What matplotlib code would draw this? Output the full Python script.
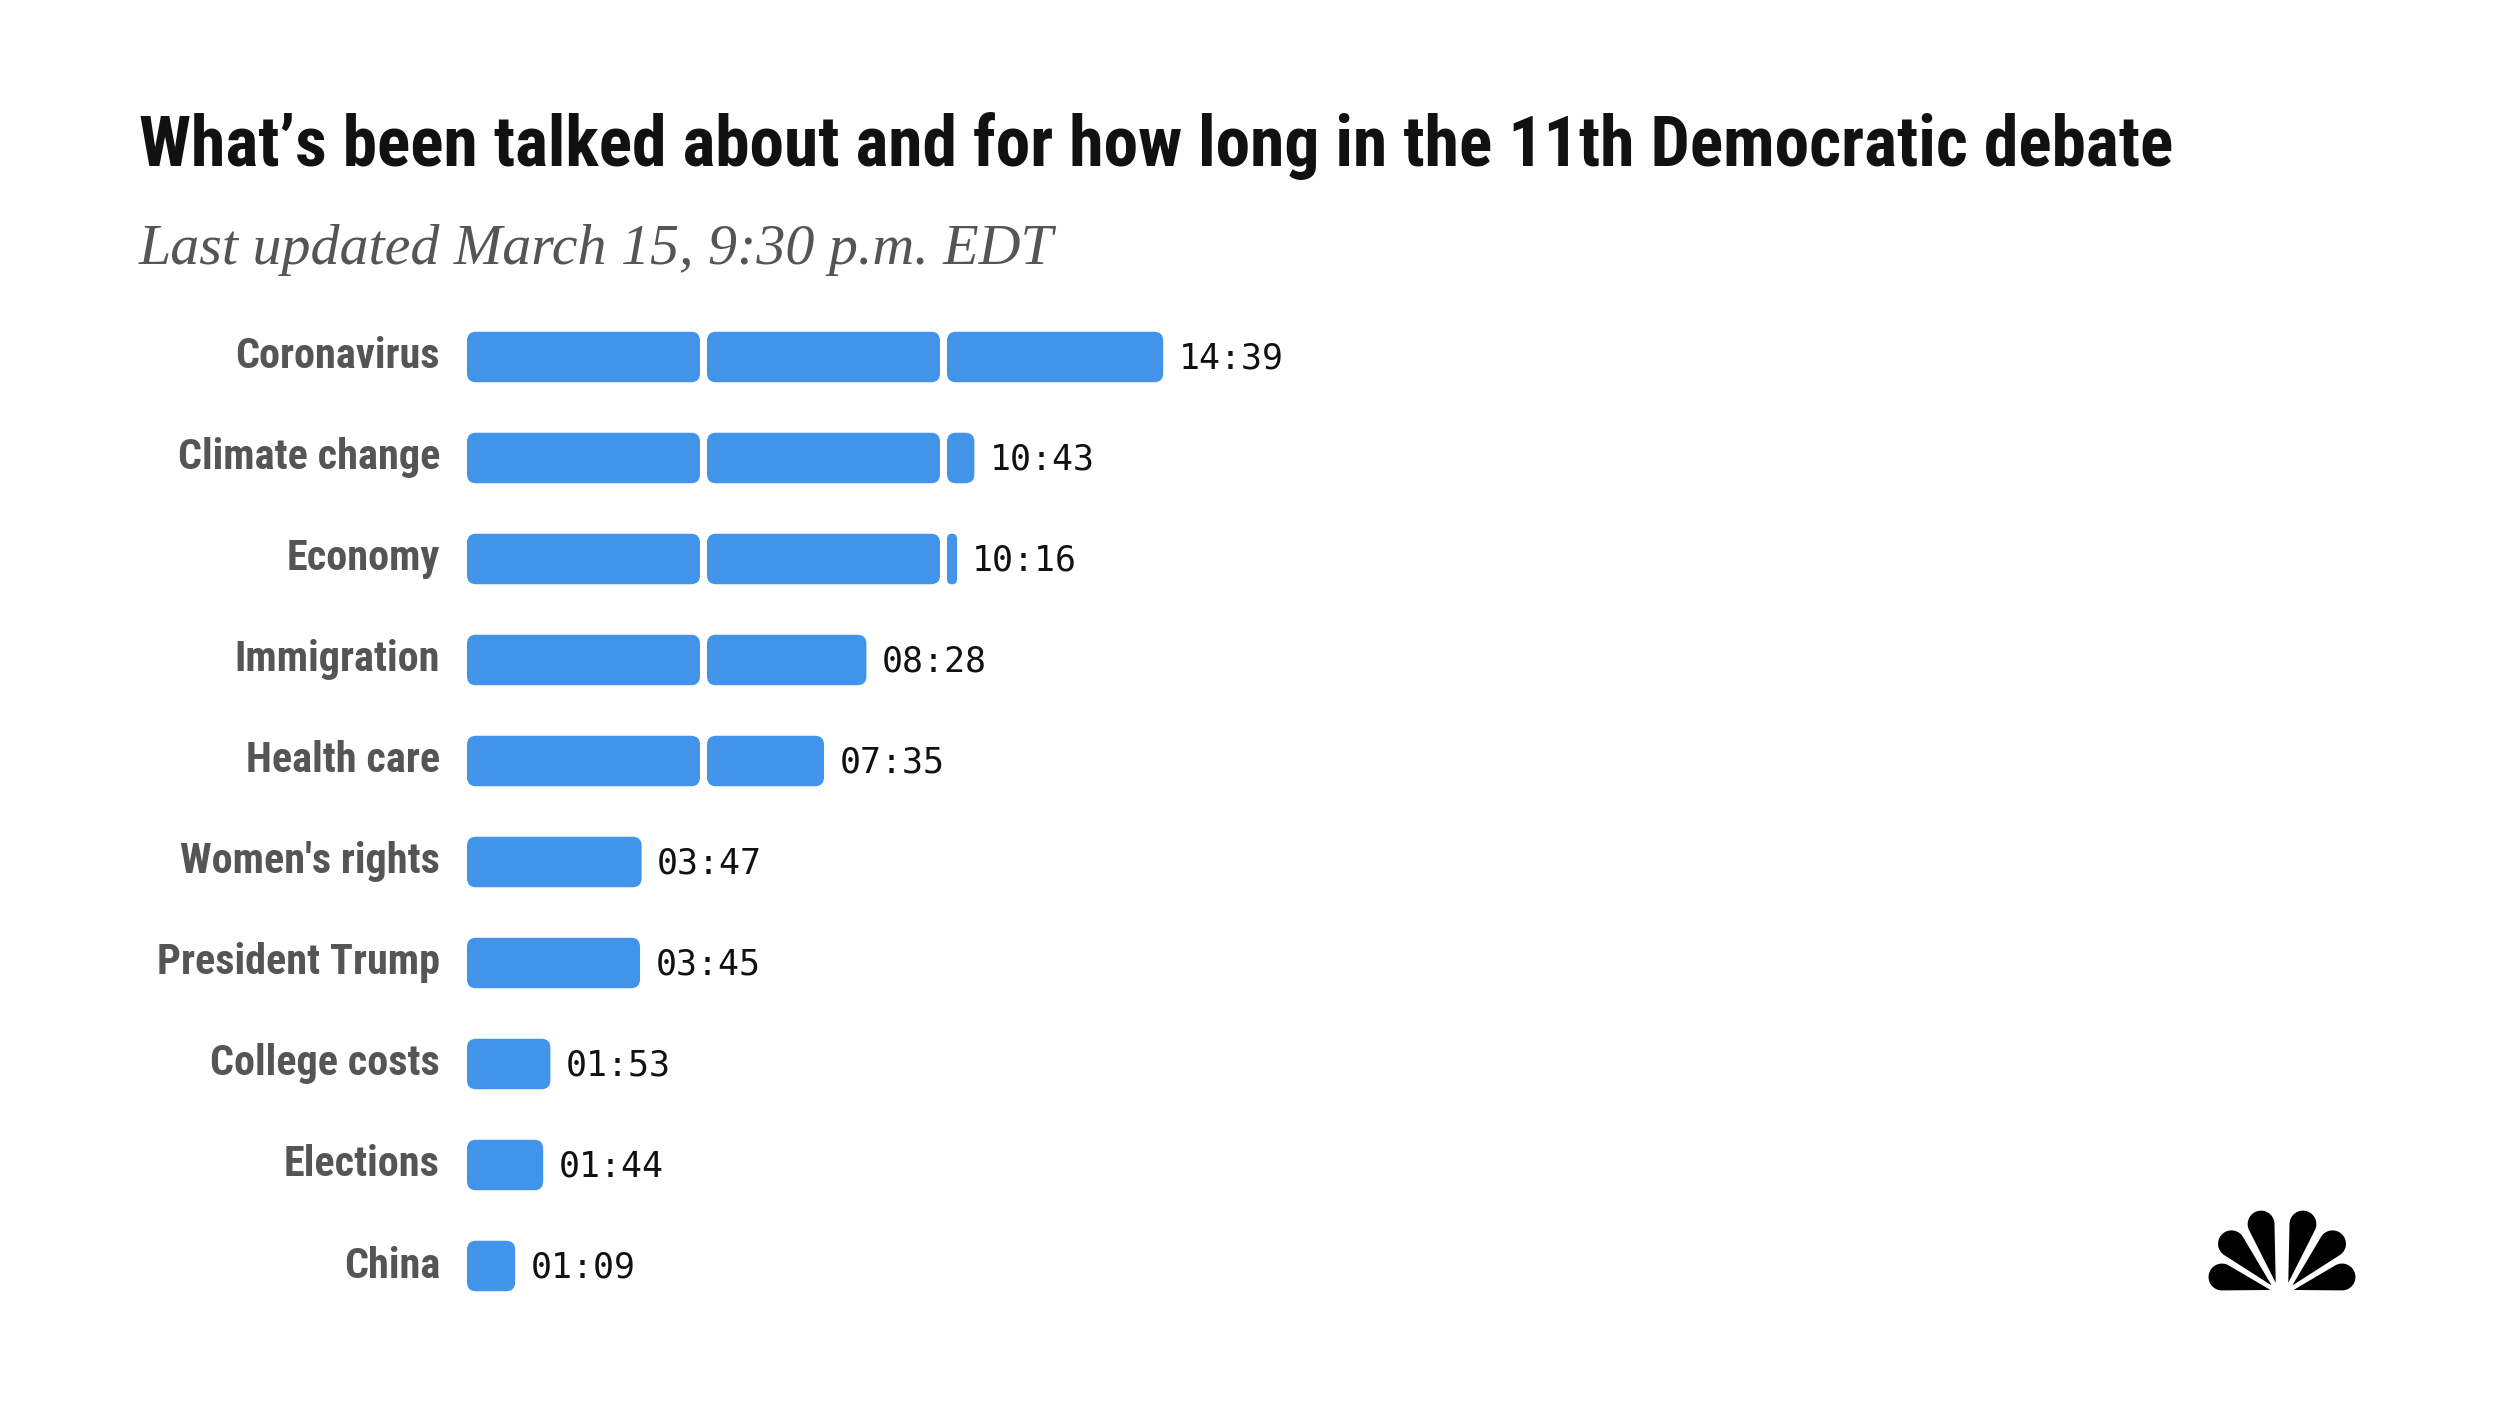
import os
import numpy as np
import matplotlib.pyplot as plt
from matplotlib import font_manager as fm
from matplotlib.patches import FancyBboxPatch, Polygon

# Data
topics = ["Coronavirus", "Climate change", "Economy", "Immigration", "Health care",
          "Women's rights", "President Trump", "College costs", "Elections", "China"]
durations = ["14:39", "10:43", "10:16", "08:28", "07:35",
             "03:47", "03:45", "01:53", "01:44", "01:09"]

minutes = [int(d.split(":")[0]) + int(d.split(":")[1]) / 60 for d in durations]


# Fonts: look for a bold condensed sans file, else plain bold
def find_file(patterns):
    files = {}
    for f in fm.fontManager.ttflist:
        key = os.path.basename(f.fname).lower()
        for ch in "-_ ":
            key = key.replace(ch, "")
        files[key] = f.fname
    for p in patterns:
        for ext in (".ttf", ".otf"):
            if p + ext in files:
                return files[p + ext]
    return None

cond_file = find_file(["notosanscondensedextrabold", "notosanscondensedbold",
                       "robotocondensedbold", "liberationsansnarrowbold",
                       "opensanscondensedbold", "dejavusanscondensedbold"])
if cond_file:
    cond_fp = fm.FontProperties(fname=cond_file)
else:
    cond_fp = fm.FontProperties(family="DejaVu Sans", weight="bold")

serif_fp = fm.FontProperties(family=["Liberation Serif", "DejaVu Serif"], style="italic")
mono_fp = fm.FontProperties(family=["DejaVu Sans Mono", "Liberation Mono"])

bar_color = "#4194EA"
label_color = "#555555"

W, H = 2500, 1406
fig = plt.figure(figsize=(W / 100, H / 100), dpi=100)
fig.patch.set_facecolor("white")

# scale: 48 px per minute, 101 px per row
px_per_min = 48
px_per_row = 101
xmax = 40
ax = fig.add_axes([467 / W, 1 - 1316.5 / H, xmax * px_per_min / W, 10 * px_per_row / H])
ax.set_xlim(0, xmax)
ax.set_ylim(len(topics) - 0.5, -0.5)
ax.axis("off")

seg = 5.0                      # each block is five minutes
gap = 7 / px_per_min           # white gap between blocks
min_w = 10 / px_per_min
rad = 9 / px_per_min
bar_h = 0.5
asp = px_per_min / px_per_row

value_texts = []
topic_texts = []
for i, (topic, v, lab) in enumerate(zip(topics, minutes, durations)):
    start = 0.0
    end_x = 0.0
    while start < v:
        end = min(start + seg, v)
        w = max(end - start - gap, min_w)
        r = min(rad, w / 2)
        ax.add_patch(FancyBboxPatch((start, i - bar_h / 2), w, bar_h,
                                    boxstyle=f"round,pad=0,rounding_size={r}",
                                    mutation_aspect=asp, fc=bar_color, ec="none"))
        end_x = start + w
        start += seg
    t = ax.annotate(lab, (end_x, i), xytext=(11, -1), textcoords="offset points",
                    ha="left", va="center", fontproperties=mono_fp, fontsize=23,
                    color="#111111")
    value_texts.append(t)
    t = ax.text(-27 / px_per_min, i, topic, ha="right", va="center",
                fontproperties=cond_fp, fontsize=30, color=label_color)
    topic_texts.append(t)

# Titles
title = fig.text(139 / W, 1 - 166 / H,
                 "What\u2019s been talked about and for how long in the 11th Democratic debate",
                 ha="left", va="baseline", fontproperties=cond_fp, fontsize=50,
                 color="#111111")
sub = fig.text(139 / W, 1 - 264 / H, "Last updated March 15, 9:30 p.m. EDT",
               ha="left", va="baseline", fontproperties=serif_fp, fontsize=45,
               color="#555555")

# size the texts so their widths match the reference
fig.canvas.draw()
rend = fig.canvas.get_renderer()

def fit(texts, ref, target):
    wdt = ref.get_window_extent(rend).width
    fs = ref.get_fontsize() * target / wdt
    for t in texts:
        t.set_fontsize(fs)

fit([title], title, 2037)
fit([sub], sub, 914)
fit(topic_texts, topic_texts[0], 205)
fit(value_texts, value_texts[0], 105)

# NBC peacock
lax = fig.add_axes([2202 / W, 1 - 1292 / H, 160 / W, 90 / H])
lax.set_xlim(-80, 80)
lax.set_ylim(0, 90)
lax.axis("off")

def petal(ox, theta, d, r):
    th = np.radians(theta)
    cx, cy = ox + d * np.cos(th), d * np.sin(th)
    a = np.arcsin(r / d)
    ang = np.linspace(th + np.pi / 2 + a, th - np.pi / 2 - a, 60)
    xs = np.concatenate([[ox], cx + r * np.cos(ang)])
    ys = np.concatenate([[0], cy + r * np.sin(ang)])
    return np.column_stack([xs, ys])

for theta, d in [(15, 58), (46, 67), (76, 70)]:
    for side in (-1, 1):
        pts = petal(0, theta, d, 15.5)
        pts[:, 0] = side * pts[:, 0] + side * 4
        lax.add_patch(Polygon(pts, closed=True, fc="black", ec="white", lw=3))

fig.savefig("out.png", dpi=100, facecolor="white")
